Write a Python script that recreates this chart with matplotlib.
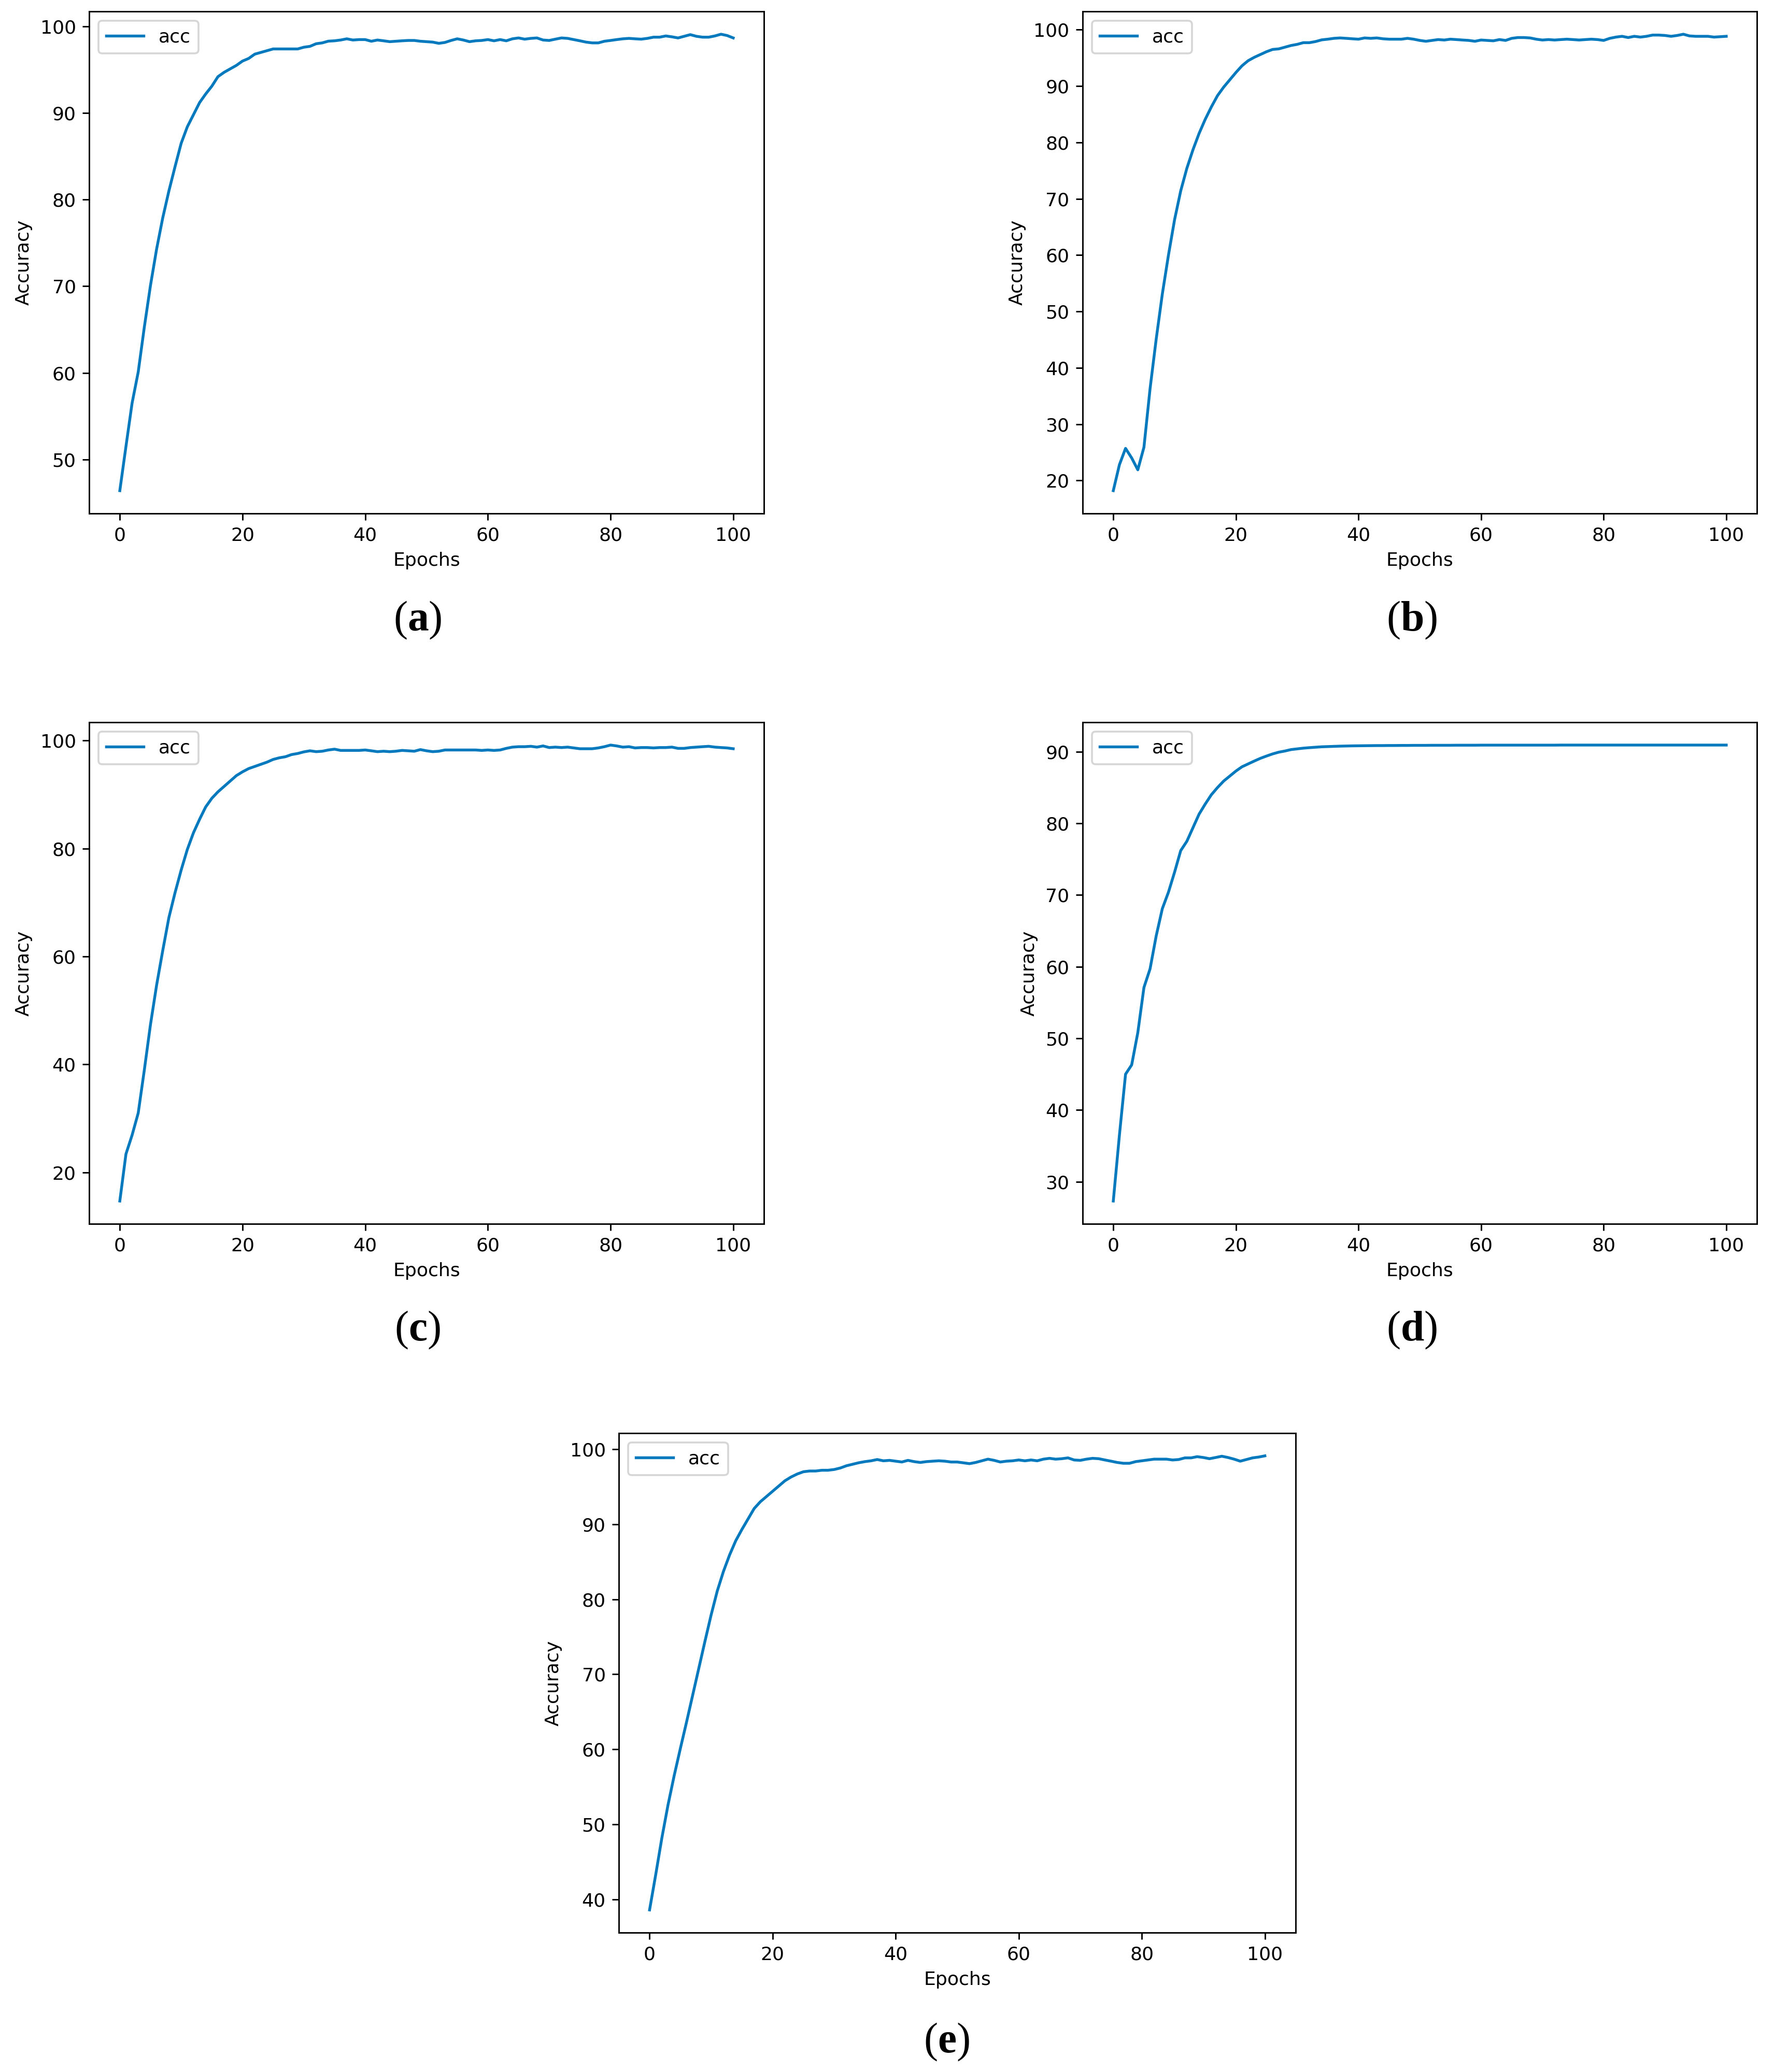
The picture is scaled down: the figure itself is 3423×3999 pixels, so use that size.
"""Accuracy curves for five training runs, panels (a)-(e)."""

import numpy as np
import matplotlib.pyplot as plt

EPOCHS = np.arange(101)

ACC_A = [
    46.4, 51.5, 56.5, 60.1, 65.3, 70.1, 74.3, 77.9, 81.0, 83.8,
    86.5, 88.4, 89.8, 91.2, 92.2, 93.1, 94.2, 94.7, 95.1, 95.5,
    96.0, 96.3, 96.8, 97.0, 97.2, 97.4, 97.4, 97.4, 97.4, 97.4,
    97.6, 97.7, 98.0, 98.1, 98.3, 98.34, 98.43, 98.57, 98.43, 98.48,
    98.48, 98.29, 98.43, 98.34, 98.24, 98.29, 98.34, 98.38, 98.38, 98.29,
    98.24, 98.19, 98.05, 98.15, 98.38, 98.57, 98.43, 98.24, 98.34, 98.38,
    98.48, 98.34, 98.48, 98.34, 98.57, 98.67, 98.53, 98.62, 98.67, 98.43,
    98.38, 98.53, 98.67, 98.62, 98.48, 98.34, 98.19, 98.1, 98.1, 98.29,
    98.38, 98.48, 98.57, 98.62, 98.57, 98.53, 98.62, 98.76, 98.76, 98.9,
    98.8, 98.67, 98.86, 99.05, 98.86, 98.76, 98.76, 98.9, 99.1, 98.95,
    98.67,
]

ACC_B = [
    18.2, 22.8, 25.7, 24.0, 21.9, 25.9, 36.3, 45.1, 53.1, 60.0,
    66.3, 71.4, 75.4, 78.7, 81.6, 84.1, 86.3, 88.3, 89.8, 91.1,
    92.4, 93.6, 94.5, 95.1, 95.6, 96.1, 96.5, 96.6, 96.9, 97.2,
    97.4, 97.7, 97.7, 97.9, 98.2, 98.32, 98.47, 98.54, 98.47, 98.39,
    98.32, 98.54, 98.47, 98.54, 98.39, 98.32, 98.32, 98.32, 98.47, 98.32,
    98.1, 97.95, 98.1, 98.25, 98.17, 98.32, 98.25, 98.17, 98.1, 97.95,
    98.17, 98.1, 98.03, 98.25, 98.1, 98.47, 98.61, 98.61, 98.54, 98.32,
    98.17, 98.25, 98.17, 98.25, 98.32, 98.25, 98.17, 98.25, 98.32, 98.25,
    98.1, 98.47, 98.69, 98.83, 98.61, 98.83, 98.69, 98.83, 99.05, 99.05,
    98.98, 98.83, 98.98, 99.2, 98.9, 98.83, 98.83, 98.83, 98.69, 98.76,
    98.83,
]

ACC_C = [
    14.7, 23.4, 26.9, 31.0, 39.0, 47.4, 54.7, 61.1, 67.2, 71.8,
    76.0, 79.8, 82.9, 85.4, 87.7, 89.3, 90.5, 91.5, 92.5, 93.5,
    94.2, 94.8, 95.2, 95.6, 96.0, 96.5, 96.8, 97.0, 97.4, 97.6,
    97.9, 98.1, 97.94, 98.02, 98.25, 98.4, 98.17, 98.17, 98.17, 98.17,
    98.25, 98.1, 97.94, 98.02, 97.94, 98.02, 98.17, 98.1, 98.02, 98.32,
    98.1, 97.94, 98.02, 98.25, 98.25, 98.25, 98.25, 98.25, 98.25, 98.17,
    98.25, 98.17, 98.25, 98.55, 98.78, 98.86, 98.86, 98.93, 98.78, 99.0,
    98.7, 98.78, 98.7, 98.78, 98.63, 98.48, 98.48, 98.48, 98.63, 98.86,
    99.16, 99.0, 98.78, 98.86, 98.63, 98.7, 98.7, 98.63, 98.7, 98.7,
    98.78, 98.55, 98.55, 98.7, 98.78, 98.86, 98.93, 98.78, 98.7, 98.63,
    98.48,
]

ACC_D = [
    27.3, 36.5, 45.0, 46.3, 50.8, 57.1, 59.7, 64.3, 68.1, 70.4,
    73.2, 76.2, 77.5, 79.4, 81.3, 82.7, 84.0, 85.0, 85.9, 86.6,
    87.3, 87.9, 88.3, 88.7, 89.08, 89.4, 89.7, 89.94, 90.1, 90.3,
    90.4, 90.5, 90.57, 90.63, 90.69, 90.72, 90.75, 90.78, 90.8, 90.82,
    90.83, 90.84, 90.85, 90.86, 90.86, 90.87, 90.87, 90.88, 90.88, 90.89,
    90.89, 90.89, 90.9, 90.9, 90.9, 90.9, 90.91, 90.91, 90.91, 90.91,
    90.92, 90.92, 90.92, 90.92, 90.92, 90.92, 90.92, 90.92, 90.92, 90.92,
    90.92, 90.92, 90.92, 90.93, 90.93, 90.93, 90.93, 90.93, 90.93, 90.93,
    90.93, 90.93, 90.93, 90.93, 90.93, 90.93, 90.93, 90.93, 90.93, 90.93,
    90.93, 90.93, 90.93, 90.93, 90.93, 90.93, 90.93, 90.93, 90.93, 90.93,
    90.93,
]

ACC_E = [
    38.6, 43.3, 48.2, 52.6, 56.5, 60.1, 63.6, 67.2, 70.8, 74.4,
    77.9, 81.1, 83.7, 85.9, 87.8, 89.3, 90.7, 92.1, 93.0, 93.7,
    94.4, 95.1, 95.8, 96.3, 96.7, 97.0, 97.1, 97.1, 97.2, 97.2,
    97.3, 97.5, 97.8, 98.0, 98.2, 98.35, 98.46, 98.63, 98.46, 98.52,
    98.41, 98.3, 98.52, 98.35, 98.24, 98.35, 98.41, 98.46, 98.41, 98.3,
    98.3, 98.19, 98.08, 98.24, 98.46, 98.68, 98.52, 98.3, 98.41, 98.46,
    98.57, 98.46, 98.57, 98.46, 98.68, 98.79, 98.68, 98.74, 98.85, 98.57,
    98.52, 98.68, 98.79, 98.74, 98.57, 98.41, 98.24, 98.13, 98.13, 98.35,
    98.46, 98.57, 98.68, 98.68, 98.68, 98.57, 98.63, 98.85, 98.85, 99.01,
    98.9, 98.74, 98.9, 99.07, 98.9, 98.68, 98.41, 98.63, 98.85, 98.96,
    99.12,
]

SERIES = [ACC_A, ACC_B, ACC_C, ACC_D, ACC_E]
CAPTIONS = ["a", "b", "c", "d", "e"]
YTICKS = [
    [50, 60, 70, 80, 90, 100],
    [20, 30, 40, 50, 60, 70, 80, 90, 100],
    [20, 40, 60, 80, 100],
    [30, 40, 50, 60, 70, 80, 90],
    [40, 50, 60, 70, 80, 90, 100],
]
XTICKS = [0, 20, 40, 60, 80, 100]

W, H, DPI = 3423, 3999, 261
LINE_COLOR = "#0479bd"

plt.rcParams["mathtext.fontset"] = "custom"
plt.rcParams["mathtext.rm"] = "Liberation Serif"
plt.rcParams["mathtext.bf"] = "Liberation Serif:bold"

fig = plt.figure(figsize=(W / DPI, H / DPI), dpi=DPI)
fig.patch.set_facecolor("white")

# axes boxes in pixels: left, top, right, bottom
boxes = [
    (172, 22, 1474, 991),
    (2089, 22, 3390, 991),
    (172, 1394, 1474, 2362),
    (2089, 1394, 3390, 2362),
    (1194, 2766, 2500, 3730),
]
caption_pos = [(806, 1197), (2724, 1197), (806, 2567), (2724, 2567), (1827, 3941)]

for vals, cap, yt, box, cpos in zip(SERIES, CAPTIONS, YTICKS, boxes, caption_pos):
    l, t, r, b = box
    ax = fig.add_axes([l / W, 1 - b / H, (r - l) / W, (b - t) / H])
    ax.plot(EPOCHS, vals, color=LINE_COLOR, linewidth=1.5, label="acc")
    ax.set_xticks(XTICKS)
    ax.set_yticks(yt)
    ax.set_xlabel("Epochs")
    ax.set_ylabel("Accuracy")
    ax.legend(loc="upper left")
    fig.text(cpos[0] / W, 1 - cpos[1] / H,
             r"$\mathrm{(}\mathbf{%s}\mathrm{)}$" % cap,
             fontsize=22.5, ha="center", va="center")

fig.savefig("out.png", dpi=DPI, facecolor="white")
